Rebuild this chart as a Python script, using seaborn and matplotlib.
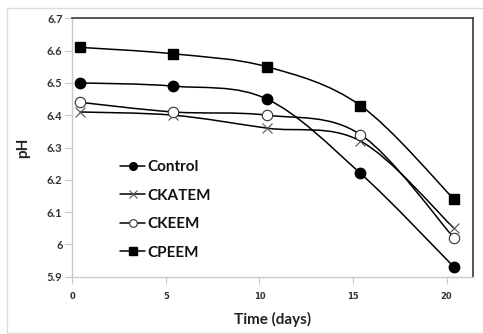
import numpy as np
import pandas as pd
import matplotlib
matplotlib.use("Agg")
import matplotlib.pyplot as plt
from matplotlib.path import Path
from matplotlib.patches import PathPatch, Rectangle
from matplotlib.lines import Line2D
import seaborn as sns

# ---- data ----
days = [0.4, 5.4, 10.4, 15.4, 20.4]
control = [6.50, 6.49, 6.45, 6.22, 5.93]
ckatem = [6.41, 6.40, 6.36, 6.32, 6.05]
ckeem = [6.44, 6.41, 6.40, 6.34, 6.02]
cpeem = [6.61, 6.59, 6.55, 6.43, 6.14]
series_names = ["Control", "CKATEM", "CKEEM", "CPEEM"]
x_ticks = [0, 5, 10, 15, 20]
y_ticks = [5.9, 6.0, 6.1, 6.2, 6.3, 6.4, 6.5, 6.6, 6.7]
y_tick_labels = ["5.9", "6", "6.1", "6.2", "6.3", "6.4", "6.5", "6.6", "6.7"]

values = {"Control": control, "CKATEM": ckatem, "CKEEM": ckeem, "CPEEM": cpeem}
df = pd.DataFrame([(n, d, v) for n in series_names for d, v in zip(days, values[n])],
                  columns=["series", "day", "pH"])

sns.set_theme(style="white")
plt.rcParams["font.family"] = ["Lato", "DejaVu Sans"]

fig = plt.figure(figsize=(4.83, 3.34), dpi=100)
fig.patch.set_facecolor("white")
# outer light frame
fig.patches.append(Rectangle((7 / 483, 1 - 333 / 334), 1.1, 325 / 334, transform=fig.transFigure,
                             fill=False, edgecolor="#dcdcdc", linewidth=1.0))

ax = fig.add_axes([72.3 / 483, 1 - 276.7 / 334, (472.7 - 72.3) / 483, (276.7 - 18.3) / 334])

styles = {
    "Control": dict(marker="o", mfc="black", mec="black", ms=7.5, mew=1.0),
    "CKATEM": dict(marker="x", mfc="none", mec="#555555", ms=7.5, mew=0.8),
    "CKEEM": dict(marker="o", mfc="white", mec="#333333", ms=7.5, mew=0.8),
    "CPEEM": dict(marker="s", mfc="black", mec="black", ms=7.5, mew=1.0),
}


def smooth_path(xs, ys):
    pts = np.column_stack([xs, ys]).astype(float)
    n = len(pts)
    verts = [pts[0]]
    codes = [Path.MOVETO]
    for i in range(n - 1):
        p0 = pts[max(i - 1, 0)]
        p1 = pts[i]
        p2 = pts[i + 1]
        p3 = pts[min(i + 2, n - 1)]
        c1 = p1 + (p2 - p0) / 6.0
        c2 = p2 - (p3 - p1) / 6.0
        verts += [c1, c2, p2]
        codes += [Path.CURVE4] * 3
    return Path(verts, codes)


for name in series_names:
    sub = df[df["series"] == name]
    ax.add_patch(PathPatch(smooth_path(sub["day"].values, sub["pH"].values),
                           facecolor="none", edgecolor="black", linewidth=1.1, zorder=2))
    st = styles[name]
    sns.lineplot(data=sub, x="day", y="pH", ax=ax, linestyle="", marker=st["marker"],
                 markersize=st["ms"], markerfacecolor=st["mfc"], markeredgecolor=st["mec"],
                 markeredgewidth=st["mew"], color=st["mec"], zorder=3, legend=False)

ax.set_xlim(0, 21.4)
ax.set_ylim(5.9, 6.7)
ax.set_xticks(x_ticks)
ax.set_xticklabels([str(t) for t in x_ticks], fontsize=6, fontweight="bold",
                   family="DejaVu Sans", color="#333333")
ax.set_yticks(y_ticks)
ax.set_yticklabels(y_tick_labels, fontsize=8, fontweight="bold", color="#333333")
ax.tick_params(axis="both", which="major", direction="out", length=5, width=0.8,
               color="#c8c8c8", left=True, bottom=True)
ax.tick_params(axis="x", pad=6)
ax.tick_params(axis="y", pad=2)

for s in ["left", "bottom"]:
    ax.spines[s].set_color("#c8c8c8")
    ax.spines[s].set_linewidth(1.0)
for s in ["top", "right"]:
    ax.spines[s].set_color("#3a3a3a")
    ax.spines[s].set_linewidth(1.2)

ax.set_xlabel("Time (days)", fontsize=11, fontweight="bold", color="#222222", labelpad=8)
ax.set_ylabel("pH", fontsize=11, fontweight="bold", color="#222222", labelpad=12)

handles = []
for name in series_names:
    st = styles[name]
    handles.append(Line2D([], [], color="black", linewidth=1.1, marker=st["marker"],
                          markersize=5.5, markerfacecolor=st["mfc"], markeredgecolor=st["mec"],
                          markeredgewidth=st["mew"]))
leg = ax.legend(handles, series_names, loc="upper left", bbox_to_anchor=(0.105, 0.475),
                frameon=False, handlelength=1.6, handletextpad=0.15, labelspacing=0.95,
                borderaxespad=0, prop={"family": "Lato", "weight": "bold", "size": 11})
for t in leg.get_texts():
    t.set_color("#111111")

fig.savefig("out.png", dpi=100, facecolor="white")
